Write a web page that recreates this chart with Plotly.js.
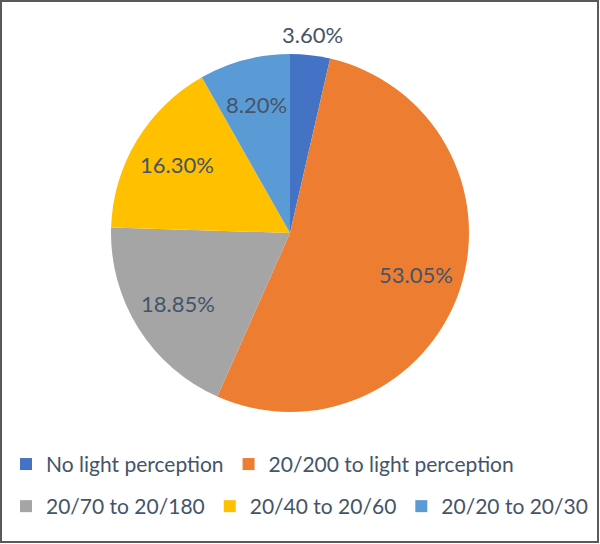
<!DOCTYPE html>
<html>
<head>
<meta charset="utf-8">
<script src="https://cdn.plot.ly/plotly-3.0.1.min.js"></script>
<style>
  html, body { margin: 0; padding: 0; background: #fff; }
  #wrap { position: relative; width: 600px; height: 544px; }
  #chart { width: 600px; height: 544px; }
  #frame { position: absolute; left: 0; top: 0; width: 599px; height: 543px; box-sizing: border-box; border: 2px solid #5a5a5a; pointer-events: none; }
</style>
</head>
<body>
<div id="wrap"><div id="chart"></div><div id="frame"></div></div>
<script>
const categories = ["No light perception", "20/200 to light perception", "20/70 to 20/180", "20/40 to 20/60", "20/20 to 20/30"];
const values = [3.60, 53.05, 18.85, 16.30, 8.20];
const valueLabels = ["3.60%", "53.05%", "18.85%", "16.30%", "8.20%"];
const colors = ["#4472C4", "#ED7D31", "#A5A5A5", "#FFC000", "#5B9BD5"];
const textPositions = ["outside", "inside", "inside", "inside", "inside"];
const legendRow1 = [0, 1];
const legendRow2 = [2, 3, 4];

const font = "Lato, 'Open Sans', sans-serif";
const textColor = "#44546A";

const W = 600, H = 544, cx = 290, cy = 233, r = 179;
const domain = { x: [(cx - r) / W, (cx + r) / W], y: [1 - (cy + r) / H, 1 - (cy - r) / H] };
const tinyDomain = { x: [cx / W - 0.001, cx / W + 0.001], y: [1 - cy / H - 0.001, 1 - cy / H + 0.001] };

function legendPie(idx, legendName) {
  return {
    type: "pie",
    labels: idx.map(i => categories[i]),
    values: idx.map(i => values[i]),
    marker: { colors: idx.map(i => colors[i]), line: { width: 0 } },
    textinfo: "none",
    sort: false,
    domain: tinyDomain,
    legend: legendName,
    showlegend: true,
    hoverinfo: "skip"
  };
}

const mainPie = {
  type: "pie",
  labels: categories,
  values: values,
  textinfo: "none",
  sort: false,
  direction: "clockwise",
  rotation: 0,
  marker: { colors: colors, line: { width: 0 } },
  domain: domain,
  showlegend: false,
  hoverinfo: "label+percent"
};

// data labels placed along each slice's mid-angle
const total = values.reduce((a, b) => a + b, 0);
let cum = 0;
const annotations = values.map((v, i) => {
  const mid = (cum + v / 2) / total * 2 * Math.PI;
  cum += v;
  const rr = r * (textPositions[i] === "outside" ? 1.115 : 0.74);
  return {
    xref: "paper", yref: "paper",
    x: (cx + rr * Math.sin(mid)) / W,
    y: 1 - (cy - rr * Math.cos(mid)) / H,
    text: valueLabels[i],
    showarrow: false,
    xanchor: "center", yanchor: "middle",
    font: { family: font, size: 22, color: textColor }
  };
});

const legendBase = {
  orientation: "h", xanchor: "left", yanchor: "top",
  font: { family: font, size: 21, color: textColor },
  traceorder: "normal", bgcolor: "rgba(0,0,0,0)"
};

const layout = {
  width: W, height: H,
  margin: { l: 0, r: 0, t: 0, b: 0, autoexpand: false },
  paper_bgcolor: "#fff",
  showlegend: true,
  legend: Object.assign({}, legendBase, { x: 0.01, y: 0.184 }),
  legend2: Object.assign({}, legendBase, { x: 0.01, y: 0.1066 }),
  annotations: annotations,
  font: { family: font, color: textColor }
};

Plotly.newPlot("chart", [legendPie(legendRow1, "legend"), legendPie(legendRow2, "legend2"), mainPie], layout, { displayModeBar: false, staticPlot: true });
</script>
</body>
</html>
